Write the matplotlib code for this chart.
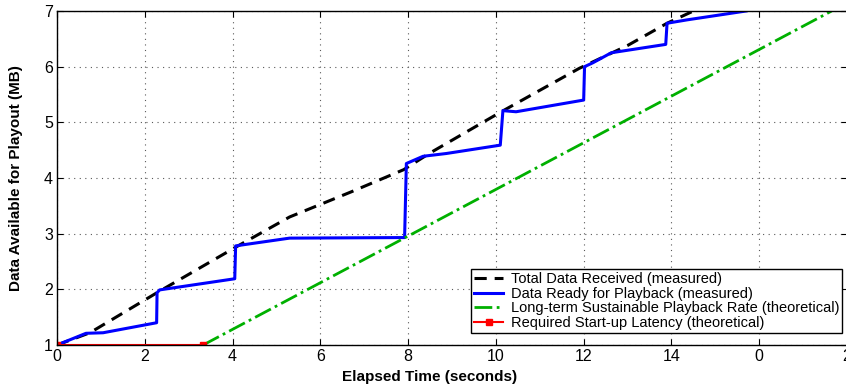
import numpy as np
import matplotlib
matplotlib.use("Agg")
import matplotlib.pyplot as plt

plt.rcParams['font.family'] = ['Liberation Sans', 'DejaVu Sans']

# Total data received (measured)
total_t = [0, 0.75, 2.3, 4.1, 5.3, 6.7, 7.9, 8.5, 10.1, 11.9, 13.0, 13.9, 14.5]
total_mb = [1.0, 1.22, 1.95, 2.77, 3.3, 3.75, 4.15, 4.45, 5.18, 5.97, 6.38, 6.78, 7.0]

# Data ready for playback (measured)
ready_t = [0, 0.66, 1.05, 2.27, 2.28, 2.34, 4.05, 4.07, 4.24, 5.30, 7.92, 7.96, 8.34, 8.87,
           10.1, 10.16, 10.46, 12.0, 12.02, 12.21, 12.63, 13.87, 13.9, 14.35, 15.7]
ready_mb = [1.0, 1.21, 1.22, 1.40, 1.94, 1.99, 2.19, 2.78, 2.80, 2.92, 2.93, 4.26, 4.39, 4.44,
            4.59, 5.21, 5.19, 5.40, 6.0, 6.07, 6.25, 6.40, 6.78, 6.84, 7.0]

# Long-term sustainable playback rate (theoretical)
rate_t = [3.33, 17.65]
rate_mb = [1.0, 7.0]

# Required start-up latency (theoretical)
latency_t = [0, 3.33]
latency_mb = [1.0, 1.0]

xticks = [0, 2, 4, 6, 8, 10, 12, 14, 16, 18]
xtick_labels = ['0', '2', '4', '6', '8', '10', '12', '14', '0', '2']

fig = plt.figure(figsize=(8.46, 3.84), dpi=100)
ax = fig.add_axes([57 / 846, 39 / 384, 790 / 846, 334 / 384])

ax.plot(total_t, total_mb, color='black', linestyle='--', linewidth=2.2,
        dashes=(4, 2.6), label='Total Data Received (measured)')
ax.plot(ready_t, ready_mb, color='#0000ff', linewidth=2.2,
        label='Data Ready for Playback (measured)')
ax.plot(rate_t, rate_mb, color='#00b000', linestyle='-.', linewidth=2.0,
        label='Long-term Sustainable Playback Rate (theoretical)')
ax.plot(latency_t, latency_mb, color='#ff0000', linewidth=1.5, marker='s',
        markersize=5, label='Required Start-up Latency (theoretical)')

ax.set_xlim(0, 18)
ax.set_ylim(1, 7)
ax.set_xticks(xticks)
ax.set_xticklabels(xtick_labels)
ax.set_yticks(range(1, 8))
ax.tick_params(direction='in', top=True, right=True, labelsize=11.5, length=4, width=0.8, pad=3)
ax.grid(True, linestyle=(0, (1, 4)), color='0.35', linewidth=0.8)
for s in ax.spines.values():
    s.set_linewidth(1.0)

ax.set_xlabel('Elapsed Time (seconds)', fontsize=11, fontweight='bold', labelpad=2)
ax.xaxis.set_label_coords(0.472, -0.075)
ax.set_ylabel('Data Available for Playout (MB)', fontsize=11, fontweight='bold')
ax.yaxis.set_label_coords(-0.043, 0.5)

leg = ax.legend(loc='lower right', bbox_to_anchor=(842 / 846, 51 / 384),
                bbox_transform=fig.transFigure, fontsize=10.5, frameon=True,
                fancybox=False, edgecolor='black', framealpha=1,
                borderpad=0.2, labelspacing=0.05, handlelength=2.0, handletextpad=0.5,
                borderaxespad=0)
leg.get_frame().set_linewidth(1.0)

fig.savefig('out.png', dpi=100)
